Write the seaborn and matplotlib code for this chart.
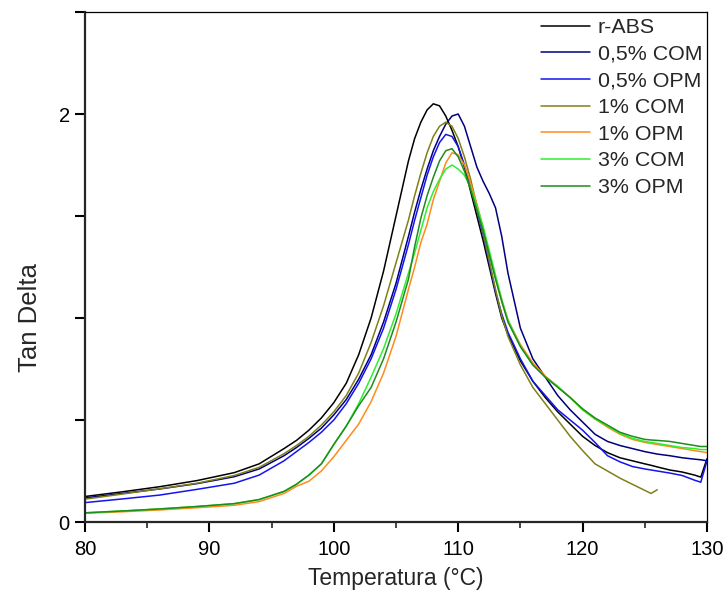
import numpy as np
import pandas as pd
import matplotlib
matplotlib.use("Agg")
import matplotlib.pyplot as plt
import seaborn as sns
from matplotlib.ticker import MultipleLocator

temps = [80, 83, 86, 89, 92, 94, 96, 97, 98, 99, 100, 101, 102, 103, 104, 105, 106,
         106.5, 107, 107.5, 108, 108.5, 109, 109.5, 110, 110.5, 111, 111.5, 112, 112.5,
         113, 113.5, 114, 115, 116, 117, 118, 119, 120, 121, 122, 123, 124, 125, 125.5,
         126, 127, 128, 129, 129.5, 130]

r_abs = [0.125, 0.148, 0.173, 0.203, 0.242, 0.285, 0.36, 0.40, 0.45, 0.51, 0.585, 0.68, 0.82,
         1.00, 1.23, 1.50, 1.77, 1.88, 1.96, 2.02, 2.05, 2.04, 1.99, 1.92, 1.84, 1.74, 1.62,
         1.50, 1.38, 1.25, 1.12, 1.00, 0.92, 0.79, 0.69, 0.61, 0.54, 0.48, 0.42, 0.375, 0.34,
         0.315, 0.30, 0.285, 0.278, 0.27, 0.255, 0.245, 0.23, 0.22, 0.31]

com_05 = [0.118, 0.14, 0.162, 0.188, 0.222, 0.26, 0.325, 0.365, 0.41, 0.46, 0.525, 0.60, 0.70,
          0.82, 0.98, 1.17, 1.40, 1.52, 1.63, 1.73, 1.82, 1.89, 1.95, 1.99, 2.00, 1.94, 1.84,
          1.74, 1.67, 1.61, 1.54, 1.40, 1.22, 0.95, 0.80, 0.71, 0.62, 0.55, 0.49, 0.43, 0.395,
          0.375, 0.36, 0.345, 0.339, 0.333, 0.325, 0.315, 0.308, 0.305, 0.30]

opm_05 = [0.095, 0.113, 0.132, 0.16, 0.19, 0.23, 0.30, 0.345, 0.39, 0.44, 0.50, 0.58, 0.68,
          0.80, 0.95, 1.14, 1.36, 1.48, 1.59, 1.70, 1.79, 1.86, 1.90, 1.89, 1.84, 1.75, 1.65,
          1.53, 1.41, 1.27, 1.13, 1.02, 0.93, 0.80, 0.69, 0.62, 0.55, 0.50, 0.45, 0.39, 0.325,
          0.295, 0.272, 0.26, 0.255, 0.25, 0.24, 0.228, 0.205, 0.195, 0.30]

com_1 = [0.112, 0.137, 0.163, 0.19, 0.228, 0.268, 0.335, 0.375, 0.42, 0.475, 0.54, 0.62, 0.73,
         0.88, 1.06, 1.27, 1.48, 1.60, 1.71, 1.81, 1.89, 1.94, 1.96, 1.94, 1.88, 1.79, 1.68,
         1.55, 1.42, 1.28, 1.14, 1.01, 0.91, 0.77, 0.66, 0.58, 0.50, 0.42, 0.35, 0.285, 0.25,
         0.215, 0.185, 0.155, 0.14, 0.158, np.nan, np.nan, np.nan, np.nan, np.nan]

opm_1 = [0.043, 0.05, 0.059, 0.07, 0.082, 0.10, 0.14, 0.175, 0.20, 0.25, 0.32, 0.40, 0.48,
         0.59, 0.73, 0.91, 1.14, 1.25, 1.37, 1.46, 1.58, 1.67, 1.76, 1.81, 1.80, 1.75, 1.66,
         1.56, 1.44, 1.32, 1.20, 1.09, 0.99, 0.87, 0.78, 0.715, 0.665, 0.61, 0.55, 0.505, 0.465,
         0.43, 0.405, 0.39, 0.385, 0.38, 0.37, 0.36, 0.35, 0.345, 0.34]

com_3 = [0.045, 0.054, 0.064, 0.076, 0.09, 0.11, 0.15, 0.185, 0.23, 0.285, 0.38, 0.47, 0.58,
         0.71, 0.85, 1.02, 1.22, 1.32, 1.43, 1.54, 1.62, 1.68, 1.73, 1.75, 1.73, 1.70, 1.64,
         1.55, 1.45, 1.33, 1.21, 1.09, 0.99, 0.86, 0.77, 0.71, 0.665, 0.61, 0.55, 0.505, 0.47,
         0.435, 0.41, 0.395, 0.39, 0.385, 0.375, 0.365, 0.36, 0.355, 0.355]

opm_3 = [0.045, 0.054, 0.064, 0.076, 0.09, 0.11, 0.15, 0.185, 0.23, 0.285, 0.38, 0.47, 0.57,
         0.66, 0.80, 0.98, 1.19, 1.35, 1.49, 1.60, 1.69, 1.77, 1.82, 1.83, 1.79, 1.72, 1.63,
         1.53, 1.43, 1.31, 1.19, 1.08, 0.98, 0.86, 0.77, 0.71, 0.66, 0.61, 0.555, 0.51, 0.475,
         0.44, 0.42, 0.405, 0.402, 0.40, 0.395, 0.385, 0.375, 0.37, 0.37]

labels = ["r-ABS", "0,5% COM", "0,5% OPM", "1% COM", "1% OPM", "3% COM", "3% OPM"]
colors = ["#000000", "#000080", "#1414F0", "#808018", "#FF8C1A", "#30EE30", "#1E8C1E"]
series = [r_abs, com_05, opm_05, com_1, opm_1, com_3, opm_3]

rows = []
for lab, vals in zip(labels, series):
    for t, v in zip(temps, vals):
        rows.append({"Temperatura": t, "Tan Delta": v, "Amostra": lab})
df = pd.DataFrame(rows).dropna()

sns.set_style("ticks")
plt.rcParams["font.family"] = ["Liberation Sans", "DejaVu Sans"]

fig = plt.figure(figsize=(7.27, 6.01), dpi=100)
ax = fig.add_axes([85 / 727, 1 - 522 / 601, (707 - 85) / 727, (522 - 12) / 601])

sns.lineplot(data=df, x="Temperatura", y="Tan Delta", hue="Amostra", hue_order=labels,
             palette=dict(zip(labels, colors)), estimator=None, sort=False,
             linewidth=1.1, ax=ax)

ax.set_xlim(80, 130)
ax.set_ylim(0, 2.5)
ax.xaxis.set_major_locator(MultipleLocator(10))
ax.xaxis.set_minor_locator(MultipleLocator(5))
ax.set_yticks([0, 0.5, 1, 1.5, 2, 2.5])
ax.set_yticklabels(["0", "", "", "", "2", ""])
ax.tick_params(axis="both", which="major", direction="out", length=7, width=1.5,
               labelsize=14.5, colors="black")
ax.tick_params(axis="x", which="major", pad=6)
ax.tick_params(axis="y", which="major", pad=4)
ax.tick_params(axis="x", which="minor", direction="out", length=4.5, width=1.2)
for s in ["left", "bottom"]:
    ax.spines[s].set_linewidth(1.6)
for s in ["top", "right"]:
    ax.spines[s].set_linewidth(0.9)
    ax.spines[s].set_visible(True)
    ax.spines[s].set_color("black")

ax.set_xlabel("Temperatura (°C)", fontsize=16.5)
ax.xaxis.set_label_coords(0.5, -(578 - 522) / 510, transform=ax.transAxes)
ax.set_ylabel("Tan Delta", fontsize=18.5)
ax.yaxis.set_label_coords(-(85 - 30) / 622, (522 - 318) / 510, transform=ax.transAxes)
ax.xaxis.label.set_va("center")
ax.yaxis.label.set_va("center")

leg = ax.legend(loc="upper left", frameon=False, fontsize=15.4, labelspacing=0.36,
                handlelength=2.3, handletextpad=0.35, borderaxespad=0.0, borderpad=0.0,
                bbox_to_anchor=((541 - 85) / 622, 1 - 6 / 510))

fig.savefig("out.png", dpi=100)
